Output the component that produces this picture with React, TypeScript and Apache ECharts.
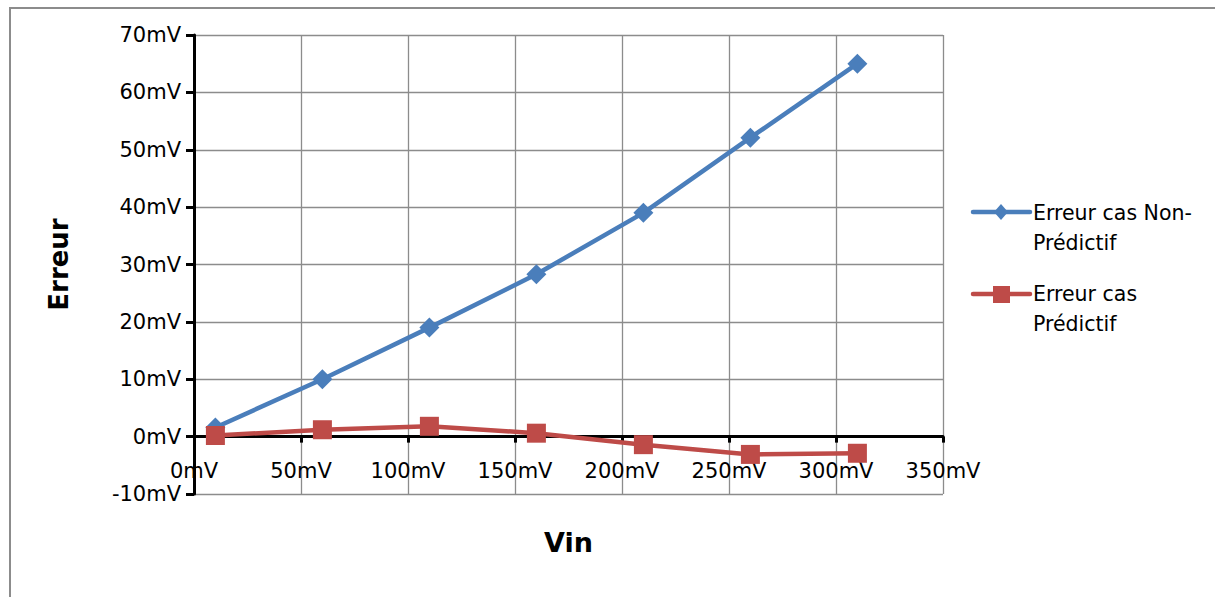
import React, { useEffect, useRef } from "react";
import * as echarts from "echarts";

const xValues = [10, 60, 110, 160, 210, 260, 310];
const nonPredictif = [1.6, 10.0, 19.0, 28.3, 39.0, 52.1, 65.0];
const predictif = [0.2, 1.2, 1.8, 0.6, -1.4, -3.1, -2.9];
const seriesNames = ["Erreur cas Non-\nPrédictif", "Erreur cas\nPrédictif"];
const seriesColors = ["#4A7EBB", "#BE4B48"];
const xAxisTitle = "Vin";
const yAxisTitle = "Erreur";

const FONT = "DejaVu Sans";

export default function App() {
  const ref = useRef<HTMLDivElement>(null);
  useEffect(() => {
    if (!ref.current) return;
    const chart = echarts.init(ref.current, null, { renderer: "svg" });
    const mv = (v: number) => `${v}mV`;
    chart.setOption({
      animation: false,
      backgroundColor: "#ffffff",
      textStyle: { fontFamily: FONT },
      grid: {
        left: 194,
        top: 35,
        right: 272,
        bottom: 103,
        containLabel: false,
        outerBoundsMode: "none",
      },
      xAxis: {
        type: "value",
        min: 0,
        max: 350,
        interval: 50,
        name: xAxisTitle,
        nameLocation: "middle",
        nameGap: 35,
        nameTextStyle: { fontFamily: FONT, fontSize: 27, fontWeight: "bold", color: "#000" },
        axisLine: { show: true, onZero: true, lineStyle: { color: "#000", width: 3 } },
        axisTick: { show: true, length: 6, lineStyle: { color: "#000", width: 3 } },
        axisLabel: { formatter: mv, fontFamily: FONT, fontSize: 21, color: "#000", margin: -34 },
        splitLine: { show: true, lineStyle: { color: "#8c8c8c", width: 1.3 } },
      },
      yAxis: {
        type: "value",
        min: -10,
        max: 70,
        interval: 10,
        name: yAxisTitle,
        nameLocation: "middle",
        nameGap: 122,
        nameTextStyle: { fontFamily: FONT, fontSize: 26, fontWeight: "bold", color: "#000" },
        axisLine: { show: true, lineStyle: { color: "#000", width: 3 } },
        axisTick: { show: true, length: 8, lineStyle: { color: "#000", width: 3 } },
        axisLabel: { formatter: mv, fontFamily: FONT, fontSize: 21, color: "#000", margin: 13 },
        splitLine: { show: true, lineStyle: { color: "#8c8c8c", width: 1.3 } },
      },
      series: [
        {
          name: seriesNames[0],
          type: "line",
          data: xValues.map((x, i) => [x, nonPredictif[i]]),
          symbol: "diamond",
          symbolSize: 20,
          lineStyle: { color: seriesColors[0], width: 4.5 },
          itemStyle: { color: seriesColors[0] },
          z: 3,
        },
        {
          name: seriesNames[1],
          type: "line",
          data: xValues.map((x, i) => [x, predictif[i]]),
          symbol: "rect",
          symbolSize: 19,
          lineStyle: { color: seriesColors[1], width: 4.5 },
          itemStyle: { color: seriesColors[1] },
          z: 4,
        },
      ],
      graphic: [
        {
          type: "rect",
          shape: { x: 10, y: 8, width: 1400, height: 800 },
          style: { fill: "none", stroke: "#8c8c8c", lineWidth: 2 },
          silent: true,
        },
        {
          type: "line",
          shape: { x1: 973, y1: 212, x2: 1030, y2: 212 },
          style: { stroke: seriesColors[0], lineWidth: 4.5, lineCap: "round" },
        },
        {
          type: "polygon",
          shape: { points: [[1001, 204], [1008, 212], [1001, 220], [994, 212]] },
          style: { fill: seriesColors[0] },
        },
        {
          type: "text",
          x: 1033,
          y: 198,
          style: {
            text: seriesNames[0],
            fontFamily: FONT,
            fontSize: 20.5,
            lineHeight: 30,
            fill: "#000",
            verticalAlign: "top",
          },
        },
        {
          type: "line",
          shape: { x1: 973, y1: 294, x2: 1030, y2: 294 },
          style: { stroke: seriesColors[1], lineWidth: 4.5, lineCap: "round" },
        },
        {
          type: "rect",
          shape: { x: 993, y: 286, width: 17, height: 17 },
          style: { fill: seriesColors[1] },
        },
        {
          type: "text",
          x: 1033,
          y: 279,
          style: {
            text: seriesNames[1],
            fontFamily: FONT,
            fontSize: 20.5,
            lineHeight: 30,
            fill: "#000",
            verticalAlign: "top",
          },
        },
      ],
    });
    return () => chart.dispose();
  }, []);
  return (
    <div
      ref={ref}
      style={{ position: "absolute", left: 0, top: 0, width: 1215, height: 597 }}
    />
  );
}
